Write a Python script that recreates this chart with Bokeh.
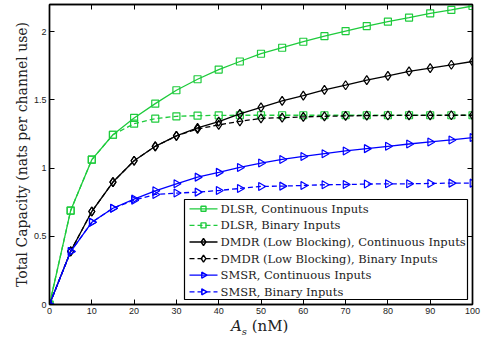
import numpy as np
from bokeh.plotting import figure
from bokeh.layouts import column
from bokeh.models import (LinearAxis, Range1d, FixedTicker, CustomJSTickFormatter, Div)
from bokeh.core.properties import value
from bokeh.embed import file_html
from bokeh.resources import INLINE

# Source amplitude A_s (nM)
a_s = [0, 5, 10, 15, 20, 25, 30, 35, 40, 45, 50, 55, 60, 65, 70, 75, 80, 85, 90, 95, 100]

# Total capacity (nats per channel use)
dlsr_cont = [0, 0.689, 1.062, 1.245, 1.368, 1.473, 1.571, 1.652, 1.723, 1.782, 1.839,
             1.883, 1.927, 1.968, 2.005, 2.042, 2.074, 2.104, 2.135, 2.160, 2.189]
dlsr_bin = [0, 0.689, 1.062, 1.245, 1.326, 1.363, 1.380, 1.385, 1.387, 1.388, 1.388,
            1.388, 1.388, 1.388, 1.388, 1.388, 1.388, 1.388, 1.388, 1.388, 1.388]
dmdr_cont = [0, 0.390, 0.682, 0.898, 1.054, 1.160, 1.236, 1.295, 1.341, 1.398, 1.446,
             1.493, 1.532, 1.574, 1.608, 1.645, 1.677, 1.709, 1.733, 1.758, 1.782]
dmdr_bin = [0, 0.390, 0.682, 0.898, 1.054, 1.160, 1.236, 1.287, 1.317, 1.343, 1.365,
            1.370, 1.376, 1.380, 1.383, 1.385, 1.386, 1.387, 1.387, 1.388, 1.388]
smsr_cont = [0, 0.388, 0.603, 0.706, 0.773, 0.834, 0.885, 0.934, 0.969, 1.005, 1.037,
             1.064, 1.086, 1.106, 1.126, 1.143, 1.160, 1.177, 1.192, 1.207, 1.224]
smsr_bin = [0, 0.388, 0.603, 0.706, 0.765, 0.807, 0.817, 0.824, 0.836, 0.851, 0.866,
            0.868, 0.873, 0.878, 0.880, 0.883, 0.885, 0.885, 0.888, 0.890, 0.890]

labels = [
    "DLSR, Continuous Inputs",
    "DLSR, Binary Inputs",
    "DMDR (Low Blocking), Continuous Inputs",
    "DMDR (Low Blocking), Binary Inputs",
    "SMSR, Continuous Inputs",
    "SMSR, Binary Inputs",
]

x_ticks = [0, 10, 20, 30, 40, 50, 60, 70, 80, 90, 100]
y_ticks = [0, 0.5, 1, 1.5, 2]

GREEN = "#1ecb3c"
BLACK = "#000000"
BLUE = "#0000ff"
TEXT = "#222222"
SERIF = "DejaVu Serif"

FRAME_W, FRAME_H = 423, 300

p = figure(width=484, height=319, output_backend="svg", toolbar_location=None,
           x_range=Range1d(0, 100), y_range=Range1d(0, 2.2),
           min_border_left=49, min_border_right=12, min_border_top=4,
           min_border_bottom=15)
# pixel-like ranges spanning the frame, used for the legend block
p.extra_x_ranges = {"px": Range1d(0, FRAME_W)}
p.extra_y_ranges = {"py": Range1d(0, FRAME_H)}

p.grid.visible = False
p.background_fill_color = "white"
p.border_fill_color = "white"
p.outline_line_color = BLACK
p.outline_line_width = 1.4

for ax, ticks in ((p.xaxis[0], x_ticks), (p.yaxis[0], y_ticks)):
    ax.ticker = FixedTicker(ticks=ticks)
    ax.major_tick_in = 5
    ax.major_tick_out = 0
    ax.minor_tick_line_color = None
    ax.axis_line_width = 1.4
    ax.major_tick_line_width = 1
    ax.major_label_text_font = "Liberation Sans"
    ax.major_label_text_font_size = "9px"
    ax.major_label_text_color = TEXT
    ax.major_label_standoff = 3

p.yaxis[0].axis_label = "Total Capacity (nats per channel use)"
p.yaxis[0].axis_label_text_font = SERIF
p.yaxis[0].axis_label_text_font_style = "normal"
p.yaxis[0].axis_label_text_font_size = "14px"
p.yaxis[0].axis_label_text_color = TEXT
p.yaxis[0].axis_label_standoff = 1

# mirrored ticks on top and right sides, no labels
blank = CustomJSTickFormatter(code="return ''")
top = LinearAxis(ticker=FixedTicker(ticks=x_ticks), formatter=blank,
                 major_tick_in=5, major_tick_out=0, minor_tick_line_color=None,
                 axis_line_width=1.4, major_label_standoff=0)
right = LinearAxis(ticker=FixedTicker(ticks=y_ticks), formatter=blank,
                   major_tick_in=5, major_tick_out=0, minor_tick_line_color=None,
                   axis_line_width=1.4, major_label_standoff=0)
p.add_layout(top, "above")
p.add_layout(right, "right")

series = [
    (dlsr_cont, GREEN, "solid", "square", 0.0, 7),
    (dlsr_bin, GREEN, "5 3", "square", 0.0, 7),
    (dmdr_cont, BLACK, "solid", "diamond", 0.0, 9),
    (dmdr_bin, BLACK, "5 3", "diamond", 0.0, 9),
    (smsr_cont, BLUE, "solid", "triangle", -np.pi / 2, 8),
    (smsr_bin, BLUE, "5 3", "triangle", -np.pi / 2, 8),
]

for ys, color, dash, marker, ang, size in series:
    p.line(a_s, ys, line_color=color, line_width=1.3, line_dash=dash)
    p.scatter(a_s, ys, marker=marker, size=size, angle=ang,
              line_color=color, fill_color=None, line_width=1.2)

# legend block, laid out in frame pixels (lower right corner)
LEG_L, LEG_R, LEG_B, LEG_T = 135, 418, 5, 105
ROW_H = 16.6
row_y = [LEG_T - 9.3 - ROW_H * i for i in range(len(labels))]
p.quad(left=[LEG_L], right=[LEG_R], bottom=[LEG_B], top=[LEG_T],
       fill_color="white", line_color=BLACK, line_width=1.2,
       x_range_name="px", y_range_name="py")
for (ys, color, dash, marker, ang, size), yy, lab in zip(series, row_y, labels):
    p.segment(x0=[140], y0=[yy], x1=[168], y1=[yy], line_color=color,
              line_width=1.3, line_dash=dash, x_range_name="px", y_range_name="py")
    p.scatter(x=[154], y=[yy], marker=marker, size=max(size - 2, 5), angle=ang,
              line_color=color, fill_color=None, line_width=1.4,
              x_range_name="px", y_range_name="py")
    p.text(x=[171], y=[yy], text=[lab], text_font=value(SERIF),
           text_font_size="11.5px", text_color=TEXT, text_baseline="middle",
           text_align="left", x_range_name="px", y_range_name="py")

# x-axis caption: italic A with subscript s, then units
caption = Div(
    text=('<span style="font-family:\'DejaVu Serif\';font-size:15px;'
          'line-height:15px;color:#222222;white-space:nowrap">'
          '<i>A</i><sub style="font-size:10px;line-height:0">'
          '<i>s</i></sub>&nbsp;(nM)</span>'),
    width=484, height=20, margin=0,
    styles={"padding-left": "231px", "box-sizing": "border-box"},
)

layout = column(p, caption, spacing=0)
open("out.html", "w").write(file_html(layout, INLINE))
